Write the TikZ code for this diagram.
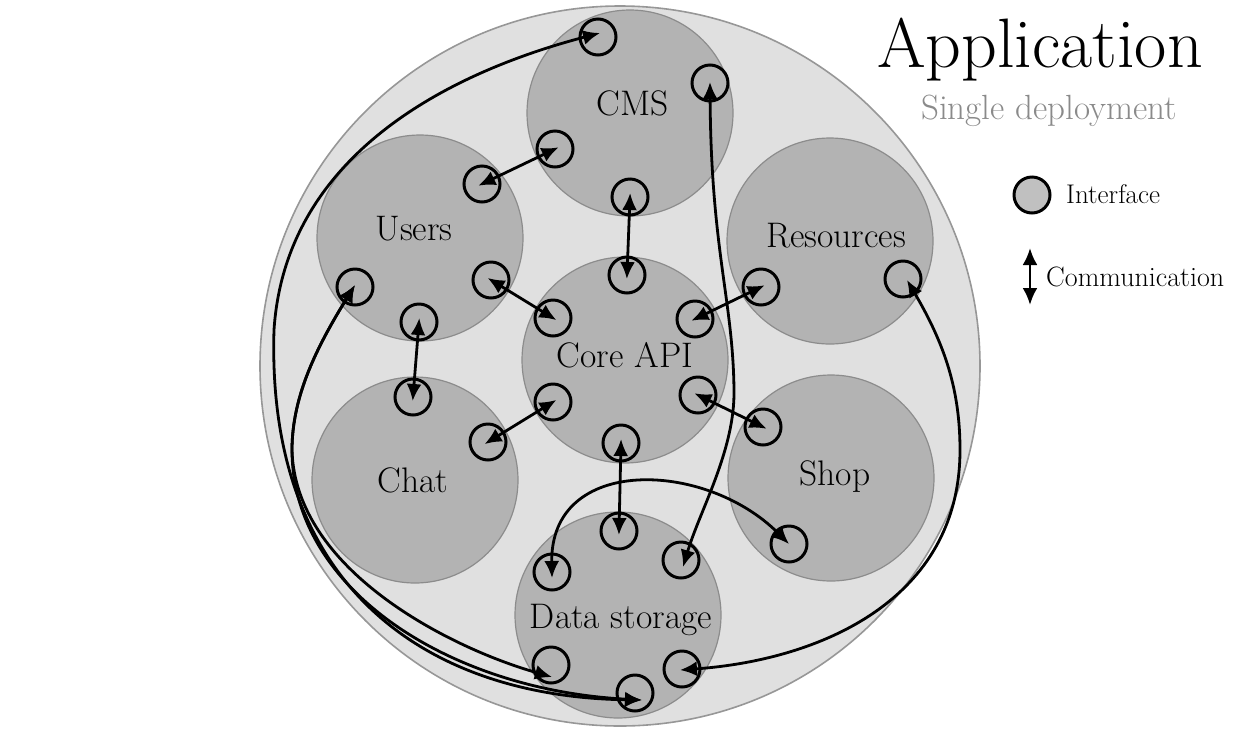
\documentclass[tikz,border=0pt]{standalone}
\usetikzlibrary{arrows.meta,calc}
\definecolor{bgc}{HTML}{E0E0E0}
\definecolor{modc}{HTML}{B3B3B3}
\definecolor{edgec}{HTML}{8C8C8C}
\definecolor{legc}{HTML}{C0C0C0}
\definecolor{subc}{HTML}{8A8A8A}
\tikzset{
  appcircle/.style={circle, minimum size=720pt, inner sep=0pt, fill=bgc, draw=edgec!90, line width=1.6pt},
  module/.style={circle, minimum size=206pt, inner sep=0pt, fill=modc, draw=edgec, line width=1.2pt},
  iface/.style={circle, minimum size=36pt, inner sep=0pt, draw=black, line width=3pt},
  lbl/.style={font=\fontsize{35.5}{40}\selectfont, inner sep=0pt, anchor=base},
  link/.style={line width=2.8pt, {Latex[length=17pt,width=15pt]}-{Latex[length=17pt,width=15pt]}},
  straight/.style={link, shorten >=-4pt, shorten <=-4pt},
}
\begin{document}
\begin{tikzpicture}[x=1pt,y=-1pt]
\useasboundingbox (0,0) rectangle (1248,732);
% application boundary
\node[appcircle] (app) at (620,366) {};
% modules
\node[module] (cms)  at (630,113) {};
\node[module] (usr)  at (420,238) {};
\node[module] (res)  at (830,241) {};
\node[module] (core) at (625,360) {};
\node[module] (chat) at (415,480) {};
\node[module] (shop) at (831,478) {};
\node[module] (data) at (618,615) {};
% module labels
\node[lbl] (cmsL)  at (633,115) {CMS};
\node[lbl] (usrL)  at (414,240) {Users};
\node[lbl] (resL2) at (836,247) {Resources};
\node[lbl] (coreL) at (625,367) {Core API};
\node[lbl] (chatL) at (413,492) {Chat};
\node[lbl] (shopL) at (835,485) {Shop};
\node[lbl] (dataL) at (621,628) {Data storage};
% interfaces
\node[iface] (cmsTL) at (598,37) {};
\node[iface] (cmsRT) at (710,83) {};
\node[iface] (cmsLB) at (555,149) {};
\node[iface] (cmsB)  at (630,197) {};
\node[iface] (usrRT) at (482,184) {};
\node[iface] (usrLL) at (355,287) {};
\node[iface] (usrB)  at (419,322) {};
\node[iface] (usrLR) at (491,280) {};
\node[iface] (coreT)  at (627,275) {};
\node[iface] (coreUL) at (553,318) {};
\node[iface] (coreUR) at (695,319) {};
\node[iface] (coreRL) at (698,395) {};
\node[iface] (coreLL) at (553,402) {};
\node[iface] (coreB)  at (621,443) {};
\node[iface] (resI)  at (761,287) {};
\node[iface] (resR)  at (903,279) {};
\node[iface] (shopTL) at (763,427) {};
\node[iface] (shopBL) at (789,544) {};
\node[iface] (chatT)  at (413,397) {};
\node[iface] (chatUR) at (488,442) {};
\node[iface] (dT)  at (619,531) {};
\node[iface] (dUL) at (552,572) {};
\node[iface] (dUR) at (681,560) {};
\node[iface] (dLL) at (551,665) {};
\node[iface] (dB)  at (635,693) {};
\node[iface] (dLR) at (682,669) {};
% straight connectors
\draw[straight] (cmsB.center) -- (coreT.center);
\draw[straight] (usrRT.center) -- (cmsLB.center);
\draw[straight] (usrLR.center) -- (coreUL.center);
\draw[straight] (usrB.center) -- (chatT.center);
\draw[straight] (chatUR.center) -- (coreLL.center);
\draw[straight] (coreUR.center) -- (resI.center);
\draw[straight] (coreRL.center) -- (shopTL.center);
\draw[straight] (coreB.center) -- (dT.center);
% curved connectors
\draw[link] ($(dUL.center)+(0,6)$) .. controls (550,455) and (705,460) .. (shopBL.center);
\draw[link] ($(cmsRT.center)+(0,-1)$) .. controls (711,250) and (733,300) .. (734,390)
            .. controls (735,450) and (700,510) .. ($(dUR.center)+(2,7)$);
\draw[link] ($(cmsTL.center)+(2,-4)$) .. controls (440,75) and (285,160) .. (274,330)
            .. controls (266,590) and (430,697) .. ($(dB.center)+(7,7)$);
\draw[link] ($(usrLL.center)+(0,-2)$) .. controls (318,345) and (292,395) .. (292,450)
            .. controls (292,590) and (450,690) .. ($(dB.center)+(7,7)$);
\draw[link] ($(usrLL.center)+(0,-2)$) .. controls (318,345) and (292,395) .. (292,450)
            .. controls (295,570) and (450,648) .. ($(dLL.center)+(1,12)$);
\draw[link] ($(resR.center)+(4,1)$) .. controls (945,345) and (960,390) .. (960,450)
            .. controls (960,600) and (820,660) .. ($(dLR.center)+(-2,1)$);
% title and legend
\node[font=\fontsize{70}{78}\selectfont, inner sep=0pt, anchor=base] (title) at (1040,67) {Application};
\node[font=\fontsize{35}{40}\selectfont, text=subc, inner sep=0pt, anchor=base] (sub) at (1049,119) {Single deployment};
\node[iface, fill=legc] (legI) at (1032,195) {};
\node[font=\fontsize{27}{32}\selectfont, inner sep=0pt, anchor=base west] (legIT) at (1066,203) {Interface};
\coordinate (legA) at (1030,248);
\coordinate (legB) at (1030,305);
\draw[link] (legA) -- (legB);
\node[font=\fontsize{28}{32}\selectfont, inner sep=0pt, anchor=base west] (legCT) at (1046,286) {Communication};
\end{tikzpicture}
\end{document}
